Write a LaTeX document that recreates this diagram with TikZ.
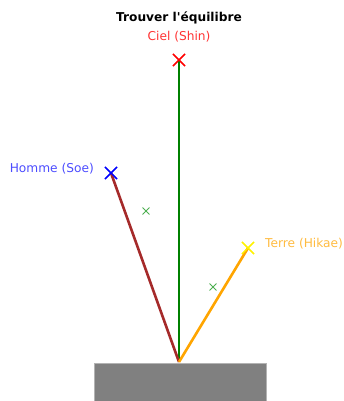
\documentclass[tikz,border=0pt]{standalone}
\usepackage{fontspec}
\setmainfont{DejaVu Sans}
\usetikzlibrary{positioning,shapes.misc}
\definecolor{ikBrown}{RGB}{165,42,42}
\definecolor{ikGreen}{RGB}{0,128,0}
\definecolor{ikOrange}{RGB}{255,165,0}
\definecolor{ikMark}{RGB}{76,175,80}
\definecolor{ikGround}{RGB}{128,128,128}

\tikzset{
  stem/.style={line width=2.6pt},
  bigx/.style={cross out, draw=#1, line width=1.1pt, minimum size=11pt, inner sep=0pt},
  smallx/.style={cross out, draw=ikMark, line width=0.9pt, minimum size=6pt, inner sep=0pt},
  lbl/.style={font=\fontsize{12.2}{14}\selectfont, inner sep=0pt}
}

\begin{document}
\begin{tikzpicture}[x=1pt, y=-1pt]
  \useasboundingbox (0,0) rectangle (344,401);

  % Ground
  \fill[ikGround, draw=ikGround!60!white, line width=0.8pt] (94,363) rectangle (266,402);

  % Branch ends
  \coordinate (base) at (179,362);
  \node[bigx=red] (ciel) at (179,60) {};
  \node[bigx=blue] (homme) at (111,173) {};
  \node[bigx=yellow] (terre) at (248,248) {};

  % Branches
  \draw[stem, ikGreen] (base) -- (ciel.center);
  \draw[stem, ikBrown] (base) -- (homme.center);
  \draw[stem, ikOrange] (base) -- (terre.center);

  % Markers on top
  \node[bigx=red] at (ciel) {};
  \node[bigx=blue] at (homme) {};
  \node[bigx=yellow] at (terre) {};
  \node[smallx] (m1) at (146,211) {};
  \node[smallx] (m2) at (213,287) {};

  % Labels
  \node[lbl, font=\fontsize{12.2}{14}\selectfont\bfseries] (titre) at (179,18) {Trouver l\textquotesingle équilibre};
  \node[lbl, text=red!80!white] (tciel) at (179,37) {Ciel (Shin)};
  \node[lbl, text=blue!70!white, anchor=east] (thomme) at (94,169) {Homme (Soe)};
  \node[lbl, text=ikOrange!75!white, anchor=west] (tterre) at (265,244) {Terre (Hikae)};
\end{tikzpicture}
\end{document}
